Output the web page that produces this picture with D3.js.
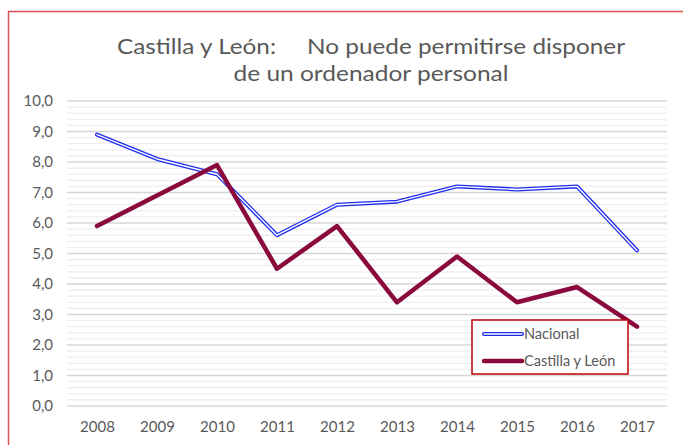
<!DOCTYPE html>
<html>
<head>
<meta charset="utf-8">
<script src="https://cdn.jsdelivr.net/npm/d3@7"></script>
<style>
  html, body { margin: 0; padding: 0; background: #fff; }
  svg { display: block; }
  text { font-family: Lato, "Open Sans", sans-serif; fill: #595959; }
</style>
</head>
<body>
<div id="canvas"></div>
<script>
'use strict';

/* Data. */
const years = ['2008', '2009', '2010', '2011', '2012', '2013', '2014', '2015', '2016', '2017'];
const nacional = [8.9, 8.1, 7.6, 5.6, 6.6, 6.7, 7.2, 7.1, 7.2, 5.1];
const castillaLeon = [5.9, 6.9, 7.9, 4.5, 5.9, 3.4, 4.9, 3.4, 3.9, 2.6];
const yTicks = [0, 1, 2, 3, 4, 5, 6, 7, 8, 9, 10];
const titleLines = ['Castilla y León:     No puede permitirse disponer', 'de un ordenador personal'];
const seriesNames = ['Nacional', 'Castilla y León'];

const canvasWidth = 683;
const canvasHeight = 445;
/* Plot area inside the frame. */
const margins = {top: 101, right: 16, bottom: 39, left: 67};
const width = canvasWidth - margins.left - margins.right;
const height = canvasHeight - margins.top - margins.bottom;

const svg = d3.select('#canvas').append('svg')
    .attr('width', canvasWidth)
    .attr('height', canvasHeight);

/* Chart frame: only its top and left edges fall inside the picture. */
svg.append('rect')
    .attr('x', 8.5)
    .attr('y', 11.5)
    .attr('width', canvasWidth + 20)
    .attr('height', canvasHeight + 20)
    .attr('fill', 'none')
    .attr('stroke', '#d9534f')
    .attr('stroke-width', 1.5);

/* The title is set a little wide, as in the original. */
const titleWidths = [508, 275];
svg.append('g')
    .selectAll('text')
    .data(titleLines)
    .join('text')
    .attr('x', 371)
    .attr('y', (d, i) => 54 + i * 27)
    .attr('text-anchor', 'middle')
    .attr('textLength', (d, i) => titleWidths[i])
    .attr('lengthAdjust', 'spacingAndGlyphs')
    .style('white-space', 'pre')
    .style('font-size', '21px')
    .text(d => d);

const chart = svg.append('g')
    .attr('transform', `translate(${margins.left},${margins.top})`);

const x = d3.scalePoint()
    .domain(years)
    .range([0, width])
    .padding(0.5);

const y = d3.scaleLinear()
    .domain([0, 10])
    .range([height, 0]);

/* Minor gridlines every 0.2, major every 1.0. */
const minorTicks = d3.range(0, 50).map(i => i / 5).filter(v => v % 1 !== 0);
chart.append('g')
    .selectAll('line')
    .data(minorTicks)
    .join('line')
    .attr('x1', 0)
    .attr('x2', width)
    .attr('y1', d => y(d))
    .attr('y2', d => y(d))
    .attr('stroke', '#eeeeee')
    .attr('stroke-width', 1.3);

chart.append('g')
    .selectAll('line')
    .data(yTicks)
    .join('line')
    .attr('x1', 0)
    .attr('x2', width)
    .attr('y1', d => y(d))
    .attr('y2', d => y(d))
    .attr('stroke', '#d6d6d6')
    .attr('stroke-width', 1.5);

const fmt = v => d3.format('.1f')(v).replace('.', ',');

const yAxis = chart.append('g')
    .call(d3.axisLeft(y).tickValues(yTicks).tickFormat(fmt).tickSize(0).tickPadding(14));
yAxis.select('.domain').remove();
yAxis.selectAll('text')
    .style('font-size', '15px')
    .style('font-family', 'Lato, "Open Sans", sans-serif')
    .attr('fill', '#595959');

const xAxis = chart.append('g')
    .attr('transform', `translate(0,${height})`)
    .call(d3.axisBottom(x).tickSize(0).tickPadding(15));
xAxis.select('.domain').remove();
xAxis.selectAll('text')
    .style('font-size', '15px')
    .style('font-family', 'Lato, "Open Sans", sans-serif')
    .attr('fill', '#595959');

const line = d3.line()
    .x((d, i) => x(years[i]))
    .y(d => y(d));

/* Nacional is drawn as a hollow double line: blue outline, white core. */
chart.append('path')
    .datum(nacional)
    .attr('d', line)
    .attr('fill', 'none')
    .attr('stroke', '#1f2cf0')
    .attr('stroke-width', 4)
    .attr('stroke-linejoin', 'round')
    .attr('stroke-linecap', 'round');
chart.append('path')
    .datum(nacional)
    .attr('d', line)
    .attr('fill', 'none')
    .attr('stroke', '#ffffff')
    .attr('stroke-width', 1.4)
    .attr('stroke-linejoin', 'round')
    .attr('stroke-linecap', 'round');

chart.append('path')
    .datum(castillaLeon)
    .attr('d', line)
    .attr('fill', 'none')
    .attr('stroke', '#8a0a3d')
    .attr('stroke-width', 4.5)
    .attr('stroke-linejoin', 'round')
    .attr('stroke-linecap', 'round');

/* Legend box. */
const legend = svg.append('g')
    .attr('transform', 'translate(472,320)');
legend.append('rect')
    .attr('width', 156)
    .attr('height', 54)
    .attr('fill', '#fff')
    .attr('stroke', '#c00000')
    .attr('stroke-width', 1.5);

const items = legend.selectAll('g.item')
    .data(seriesNames)
    .join('g')
    .attr('class', 'item')
    .attr('transform', (d, i) => `translate(0,${14 + i * 27})`);

items.filter((d, i) => i === 0).each(function() {
  const g = d3.select(this);
  g.append('line').attr('x1', 12).attr('x2', 50)
      .attr('stroke', '#1f2cf0').attr('stroke-width', 4).attr('stroke-linecap', 'round');
  g.append('line').attr('x1', 12).attr('x2', 50)
      .attr('stroke', '#fff').attr('stroke-width', 1.4).attr('stroke-linecap', 'round');
});
items.filter((d, i) => i === 1).append('line')
    .attr('x1', 12).attr('x2', 50)
    .attr('stroke', '#8a0a3d').attr('stroke-width', 4.5).attr('stroke-linecap', 'round');

items.append('text')
    .attr('x', 52)
    .attr('y', 5)
    .style('font-size', '14.5px')
    .text(d => d);
</script>
</body>
</html>
